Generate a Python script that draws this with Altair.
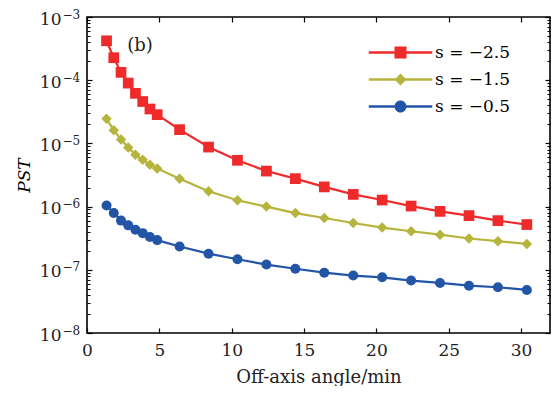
import altair as alt
import pandas as pd

# ---- data ----
angle = [1.35, 1.85, 2.35, 2.85, 3.35, 3.85, 4.35, 4.85, 6.4, 8.4, 10.4, 12.4,
         14.4, 16.4, 18.4, 20.4, 22.4, 24.4, 26.4, 28.4, 30.4]
pst_s25 = [4.2e-4, 2.27e-4, 1.33e-4, 9.0e-5, 6.2e-5, 4.6e-5, 3.5e-5, 2.85e-5,
           1.65e-5, 8.75e-6, 5.4e-6, 3.65e-6, 2.77e-6, 2.05e-6, 1.56e-6,
           1.27e-6, 1.02e-6, 8.4e-7, 7.2e-7, 6.0e-7, 5.2e-7]
pst_s15 = [2.45e-5, 1.62e-5, 1.15e-5, 8.6e-6, 6.6e-6, 5.5e-6, 4.6e-6, 4.0e-6,
           2.77e-6, 1.75e-6, 1.26e-6, 1.0e-6, 7.9e-7, 6.6e-7, 5.5e-7, 4.66e-7,
           4.07e-7, 3.6e-7, 3.13e-7, 2.84e-7, 2.57e-7]
pst_s05 = [1.04e-6, 7.9e-7, 6.0e-7, 5.05e-7, 4.3e-7, 3.8e-7, 3.3e-7, 2.95e-7,
           2.34e-7, 1.8e-7, 1.47e-7, 1.21e-7, 1.04e-7, 9.0e-8, 8.1e-8, 7.6e-8,
           6.75e-8, 6.2e-8, 5.6e-8, 5.3e-8, 4.8e-8]
series_names = ["s = \u22122.5", "s = \u22121.5", "s = \u22120.5"]
series_colors = ["#ee2a2b", "#b6b43c", "#2255a6"]
series_shapes = ["square", "diamond", "circle"]
series_sizes = [115, 110, 100]

x_ticks = [0, 5, 10, 15, 20, 25, 30]
y_major = [1e-8, 1e-7, 1e-6, 1e-5, 1e-4, 1e-3]
y_minor = [m * 10.0 ** e for e in range(-8, -3) for m in range(2, 10)]

panel_label = ["(b)"]
panel_x = [3.67]
panel_y = [3.5e-4]

rows = []
for name, vals in zip(series_names, [pst_s25, pst_s15, pst_s05]):
    for a, v in zip(angle, vals):
        rows.append({"x": a, "y": v, "series": name})
df = pd.DataFrame(rows)
df_label = pd.DataFrame({"x": panel_x, "y": panel_y, "t": panel_label})

FONT = "DejaVu Serif"
xs = alt.Scale(domain=[0, 32], nice=False, zero=False)
ys = alt.Scale(type="log", domain=[1e-8, 1e-3], nice=False)
cs = alt.Scale(domain=series_names, range=series_colors)

line_path = "M-6.35,-0.26H6.35V0.26H-6.35Z "
legend_paths = [line_path + "M-1.2,-1.2H1.2V1.2H-1.2Z",
                line_path + "M0,-1.2L1.2,0L0,1.2L-1.2,0Z",
                line_path + "M1.2,0A1.2,1.2 0 1,1 -1.2,0A1.2,1.2 0 1,1 1.2,0Z"]

legend = alt.Legend(
    title=None, orient="none", legendX=305, legendY=27, padding=0,
    symbolSize=100, labelFont=FONT, labelFontSize=17, labelColor="black",
    labelOffset=26, rowPadding=9, symbolOpacity=1, symbolStrokeWidth=0,
)

lines = alt.Chart(df).mark_line(strokeWidth=2.2).encode(
    x=alt.X("x:Q", scale=xs, axis=alt.Axis(
        orient="bottom", values=x_ticks, title="Off-axis angle/min", offset=-5,
        tickSize=5, tickWidth=1.2, tickColor="black", domain=False, grid=False,
        labelFont=FONT, labelFontSize=17, labelColor="#222222", labelPadding=9,
        titleFont=FONT, titleFontSize=18, titleFontWeight="normal",
        titleColor="#222222", titlePadding=10, labelFlush=False)),
    y=alt.Y("y:Q", scale=ys, axis=alt.Axis(
        orient="left", values=y_major, labelExpr="'10'", title="PST",
        offset=-5, tickSize=5, tickWidth=1.2, tickColor="black", domain=False,
        grid=False, labelFont=FONT, labelFontSize=17, labelColor="#222222",
        labelPadding=26, labelOffset=2, labelFlush=False,
        titleFont=FONT, titleFontSize=17, titleFontStyle="italic",
        titleFontWeight="normal", titleColor="black", titlePadding=6)),
    color=alt.Color("series:N", scale=cs),
)

point_layers = []
for i, (name, shp, sz) in enumerate(zip(series_names, series_shapes, series_sizes)):
    if i == 0:
        xa = alt.Axis(orient="top", values=x_ticks, labels=False, title=None, offset=-5,
                      tickSize=5, tickWidth=1.2, tickColor="black", domain=False, grid=False)
        ya = alt.Axis(orient="left", values=y_minor, labels=False, title=None, offset=-3,
                      tickSize=3, tickWidth=1, tickColor="black", domain=False, grid=False)
    else:
        xa = None
        ya = None
    point_layers.append(
        alt.Chart(df).transform_filter(alt.datum.series == name)
        .mark_point(filled=True, opacity=1, shape=shp, size=sz)
        .encode(
            x=alt.X("x:Q", scale=xs, axis=xa),
            y=alt.Y("y:Q", scale=ys, axis=ya),
            color=alt.Color("series:N", scale=cs),
        )
    )

legend_layer = alt.Chart(df).transform_filter("false").mark_point(filled=True, opacity=1).encode(
    x=alt.X("x:Q", scale=xs, axis=None),
    y=alt.Y("y:Q", scale=ys, axis=None),
    color=alt.Color("series:N", scale=cs, legend=legend),
    shape=alt.Shape("series:N", scale=alt.Scale(domain=series_names, range=legend_paths), legend=legend),
)

expo = alt.Chart(df).mark_point(opacity=0).encode(
    x=alt.X("x:Q", scale=xs, axis=None),
    y=alt.Y("y:Q", scale=ys, axis=alt.Axis(
        orient="left", values=y_major,
        labelExpr="'\u2212' + format(-round(log(datum.value)/LN10), 'd')",
        ticks=False, tickSize=0, domain=False, grid=False, title=None,
        labelFont=FONT, labelFontSize=12, labelColor="#222222", labelAlign="left",
        labelPadding=25, labelOffset=-3, labelFlush=False)),
)

right_major = alt.Chart(df).mark_point(opacity=0).encode(
    x=alt.X("x:Q", scale=xs, axis=None),
    y=alt.Y("y:Q", scale=ys, axis=alt.Axis(
        orient="right", values=y_major, labels=False, title=None, offset=-5,
        tickSize=5, tickWidth=1.2, tickColor="black", domain=False, grid=False)),
)

right_minor = alt.Chart(df).mark_point(opacity=0).encode(
    x=alt.X("x:Q", scale=xs, axis=None),
    y=alt.Y("y:Q", scale=ys, axis=alt.Axis(
        orient="right", values=y_minor, labels=False, title=None, offset=-3,
        tickSize=3, tickWidth=1, tickColor="black", domain=False, grid=False)),
)

label = alt.Chart(df_label).mark_text(font=FONT, fontSize=18, color="#222222").encode(
    x=alt.X("x:Q", scale=xs, axis=None),
    y=alt.Y("y:Q", scale=ys, axis=None),
    text="t:N",
)

chart = alt.layer(lines, *point_layers, legend_layer, expo, right_major, right_minor, label).resolve_axis(
    x="independent", y="independent"
).properties(
    width=463, height=316,
    padding={"left": 79, "top": 9, "right": 2, "bottom": 53},
    autosize=alt.AutoSizeParams(type="none"),
    background="white",
).configure_view(stroke="black", strokeWidth=1.6)

chart.save("out.html", embed_options={"renderer": "svg", "actions": False})
